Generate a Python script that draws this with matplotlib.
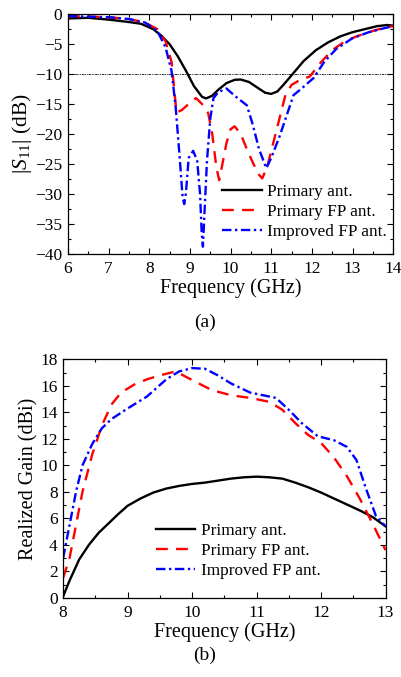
import matplotlib
matplotlib.use("Agg")
import matplotlib.pyplot as plt
from matplotlib.ticker import MultipleLocator

plt.rcParams['font.family'] = ['Liberation Serif', 'DejaVu Serif']
plt.rcParams['mathtext.fontset'] = 'custom'
plt.rcParams['mathtext.rm'] = 'Liberation Serif'
plt.rcParams['mathtext.it'] = 'Liberation Serif:italic'

# ---------- (a) S11 data ----------
f_pri = [6.0, 6.5, 7.0, 7.5, 7.8, 8.1, 8.3, 8.5, 8.7, 8.9, 9.1, 9.3, 9.4, 9.55, 9.7, 9.9, 10.1, 10.25, 10.45, 10.65, 10.85, 11.0, 11.15, 11.3, 11.55, 11.8, 12.1, 12.4, 12.7, 13.0, 13.3, 13.6, 13.85, 14.0]
s_pri = [-0.7, -0.6, -0.9, -1.3, -1.6, -2.5, -3.6, -5.0, -7.0, -9.4, -12.0, -13.8, -14.05, -13.6, -12.6, -11.5, -10.95, -10.9, -11.3, -12.2, -13.1, -13.3, -12.9, -11.8, -9.8, -7.8, -6.0, -4.7, -3.7, -3.0, -2.5, -2.0, -1.8, -1.9]

f_fp = [6.0, 6.5, 7.0, 7.5, 7.9, 8.2, 8.4, 8.55, 8.67, 8.8, 9.0, 9.15, 9.3, 9.45, 9.55, 9.65, 9.72, 9.8, 9.9, 10.0, 10.1, 10.25, 10.4, 10.55, 10.7, 10.78, 10.9, 11.05, 11.2, 11.35, 11.5, 11.7, 11.95, 12.2, 12.5, 12.8, 13.1, 13.5, 13.8, 14.0]
s_fp = [-0.3, -0.4, -0.5, -0.8, -1.4, -2.5, -4.5, -8.0, -16.4, -16.0, -14.8, -14.0, -15.0, -16.5, -20.0, -25.5, -27.7, -25.0, -21.5, -19.2, -18.7, -20.0, -22.5, -24.8, -26.8, -27.4, -25.5, -21.5, -17.5, -13.5, -11.8, -11.0, -10.4, -8.2, -6.0, -4.6, -3.7, -2.8, -2.2, -2.0]

f_imp = [6.0, 6.5, 7.0, 7.5, 7.9, 8.2, 8.4, 8.55, 8.65, 8.75, 8.82, 8.86, 8.9, 8.97, 9.08, 9.18, 9.25, 9.29, 9.32, 9.36, 9.42, 9.5, 9.58, 9.7, 9.9, 10.1, 10.4, 10.55, 10.7, 10.88, 11.0, 11.2, 11.4, 11.55, 11.75, 12.05, 12.3, 12.6, 13.0, 13.4, 13.8, 14.0]
s_imp = [-0.3, -0.4, -0.5, -0.8, -1.4, -2.8, -5.5, -9.5, -15.5, -24.0, -30.5, -31.7, -30.0, -24.0, -22.8, -24.5, -30.0, -36.5, -38.8, -33.0, -24.5, -17.5, -14.0, -13.0, -12.4, -13.6, -15.2, -18.5, -22.5, -25.7, -24.0, -20.5, -16.5, -13.5, -12.4, -10.6, -8.0, -5.8, -4.0, -3.0, -2.3, -2.0]

# ---------- (b) gain data ----------
g_f_pri = [8.0, 8.1, 8.25, 8.4, 8.55, 8.7, 8.85, 9.0, 9.2, 9.4, 9.6, 9.8, 10.0, 10.2, 10.4, 10.6, 10.8, 11.0, 11.2, 11.4, 11.6, 11.8, 12.0, 12.2, 12.4, 12.6, 12.8, 13.0]
g_pri = [0.1, 1.3, 2.9, 4.0, 4.9, 5.6, 6.3, 6.95, 7.5, 7.95, 8.25, 8.45, 8.6, 8.7, 8.85, 9.0, 9.1, 9.15, 9.1, 9.0, 8.7, 8.35, 7.95, 7.5, 7.05, 6.6, 6.1, 5.4]

g_f_fp = [8.0, 8.1, 8.2, 8.3, 8.45, 8.6, 8.75, 8.9, 9.1, 9.3, 9.5, 9.75, 9.9, 10.1, 10.3, 10.6, 10.9, 11.2, 11.4, 11.6, 11.8, 12.0, 12.2, 12.4, 12.6, 12.8, 13.0]
g_fp = [1.5, 3.0, 5.5, 8.0, 10.8, 13.0, 14.6, 15.5, 16.1, 16.5, 16.8, 17.1, 16.7, 16.2, 15.7, 15.3, 15.1, 14.8, 14.2, 13.2, 12.3, 11.7, 10.6, 9.2, 7.5, 5.6, 3.6]

g_f_imp = [8.0, 8.1, 8.2, 8.3, 8.45, 8.6, 8.75, 9.0, 9.3, 9.6, 9.8, 10.0, 10.2, 10.4, 10.6, 10.9, 11.1, 11.3, 11.5, 11.7, 11.95, 12.2, 12.4, 12.55, 12.7, 12.85, 13.0]
g_imp = [3.0, 5.5, 8.0, 10.0, 11.6, 12.8, 13.5, 14.3, 15.2, 16.5, 17.1, 17.35, 17.3, 16.8, 16.2, 15.5, 15.3, 15.1, 14.2, 13.2, 12.2, 11.9, 11.4, 10.4, 8.2, 6.2, 5.4]

labels = ['Primary ant.', 'Primary FP ant.', 'Improved FP ant.']

fig = plt.figure(figsize=(4.02, 6.77), dpi=100)
ax1 = fig.add_axes([0.169, 0.625, 0.809, 0.354])
ax2 = fig.add_axes([0.157, 0.117, 0.802, 0.352])

lw = 1.7
red_dash = (5, 3.5)
blue_dd = (4, 1.5, 1, 1.5)

def style(ax):
    ax.tick_params(which='both', direction='in', top=True, right=True, labelsize=12.5)
    ax.tick_params(axis='x', which='both', pad=5)
    ax.tick_params(axis='y', which='both', pad=4)
    ax.tick_params(which='major', length=4, width=0.8)
    ax.tick_params(which='minor', length=2.5, width=0.8)
    for s in ax.spines.values():
        s.set_linewidth(0.9)

# (a)
ax1.axhline(-10, color='black', lw=0.6, linestyle=(0, (3, 1, 1, 1, 1, 1)))
ax1.plot(f_pri, s_pri, color='black', lw=lw, label=labels[0])
ax1.plot(f_fp, s_fp, color='red', lw=lw, dashes=red_dash, label=labels[1])
ax1.plot(f_imp, s_imp, color='blue', lw=lw, dashes=blue_dd, label=labels[2])
ax1.set_xlim(6, 14)
ax1.set_ylim(-40, 0)
ax1.xaxis.set_major_locator(MultipleLocator(1))
ax1.xaxis.set_minor_locator(MultipleLocator(0.5))
ax1.yaxis.set_major_locator(MultipleLocator(5))
ax1.yaxis.set_minor_locator(MultipleLocator(2.5))
style(ax1)
ax1.set_xlabel('Frequency (GHz)', fontsize=14.5, labelpad=1)
ax1.set_ylabel(r'$|S_{11}|$ (dB)', fontsize=15.5, labelpad=1)
ax1.legend(loc='center left', bbox_to_anchor=(0.474, 0.175), frameon=False,
           fontsize=12.4, handlelength=2.3, handletextpad=0.3, labelspacing=0.25,
           borderpad=0, borderaxespad=0)
fig.text(0.51, 1 - 322 / 677, '(a)', ha='center', va='center', fontsize=14)

# (b)
ax2.plot(g_f_pri, g_pri, color='black', lw=lw, label=labels[0])
ax2.plot(g_f_fp, g_fp, color='red', lw=lw, dashes=red_dash, label=labels[1])
ax2.plot(g_f_imp, g_imp, color='blue', lw=lw, dashes=blue_dd, label=labels[2])
ax2.set_xlim(8, 13)
ax2.set_ylim(0, 18)
ax2.xaxis.set_major_locator(MultipleLocator(1))
ax2.xaxis.set_minor_locator(MultipleLocator(0.5))
ax2.yaxis.set_major_locator(MultipleLocator(2))
ax2.yaxis.set_minor_locator(MultipleLocator(1))
style(ax2)
ax2.set_xlabel('Frequency (GHz)', fontsize=14.5, labelpad=1)
ax2.set_ylabel('Realized Gain (dBi)', fontsize=14.5, labelpad=1)
ax2.legend(loc='center left', bbox_to_anchor=(0.2875, 0.196), frameon=False,
           fontsize=12.4, handlelength=2.3, handletextpad=0.3, labelspacing=0.25,
           borderpad=0, borderaxespad=0)
fig.text(0.51, 1 - 655 / 677, '(b)', ha='center', va='center', fontsize=14)

fig.savefig('out.png', dpi=100)
